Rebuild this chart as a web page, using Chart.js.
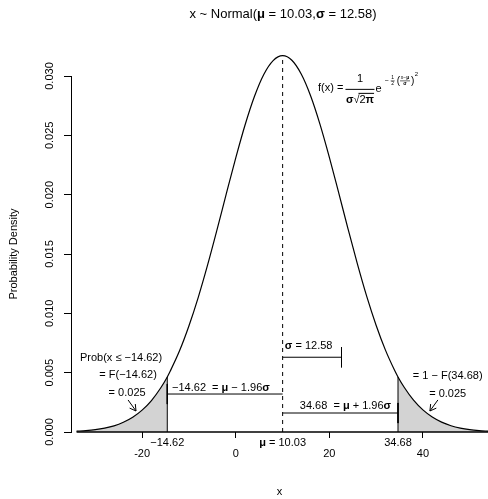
<!DOCTYPE html>
<html><head><meta charset="utf-8">
<script src="https://cdn.jsdelivr.net/npm/chart.js@4.4.1/dist/chart.umd.min.js"></script>
<style>html,body{margin:0;padding:0;background:#fff;}</style>
</head><body>
<canvas id="c" width="488" height="499"></canvas>
<script>
// ---- values ----
const MU = 10.03;
const SIGMA = 12.58;
const LOWER = -14.62;
const UPPER = 34.68;
const TAIL_PROB = 0.025;
const curveX = [-34, -32, -30, -28, -26, -24, -22, -20, -18, -16, -14.62, -14, -12, -10, -8, -6, -4, -2, 0, 2, 4, 6, 8, 10.03, 12, 14, 16, 18, 20, 22, 24, 26, 28, 30, 32, 34, 34.68, 36, 38, 40, 42, 44, 46, 48, 50, 52, 54];
const curveY = [0.00007, 0.00012, 0.00020, 0.00033, 0.00052, 0.00082, 0.00124, 0.00184, 0.00265, 0.00373, 0.00464, 0.00512, 0.00684, 0.00893, 0.01135, 0.01408, 0.01703, 0.02008, 0.02308, 0.02587, 0.02827, 0.03013, 0.03130, 0.03171, 0.03133, 0.03017, 0.02834, 0.02595, 0.02317, 0.02017, 0.01712, 0.01417, 0.01143, 0.00900, 0.00690, 0.00516, 0.00464, 0.00377, 0.00268, 0.00186, 0.00126, 0.00083, 0.00053, 0.00033, 0.00020, 0.00012, 0.00007];
const xTickValues = [-20, 0, 20, 40];
const yTickValues = [0, 0.005, 0.010, 0.015, 0.020, 0.025, 0.030];
const xMarkValues = [LOWER, MU, UPPER];
const xMarkLabels = ['−14.62', 'μ = 10.03', '34.68'];
const bracketLevels = [0.0063, 0.0032, 0.0016]; // sigma, lower, upper bracket heights
const tickHalf = 0.00085;

// ---- build datasets ----
const FAMILY = '"Liberation Sans", Arial, Helvetica, sans-serif';
const pts = curveX.map((x, i) => ({x, y: curveY[i]}));
const peakY = curveY[curveX.indexOf(MU)];
const lowY = curveY[curveX.indexOf(LOWER)];
const upY = curveY[curveX.indexOf(UPPER)];
const leftTail = pts.filter(p => p.x <= LOWER);
const rightTail = pts.filter(p => p.x >= UPPER);

function seg(data, extra) {
  return Object.assign({type: 'line', data, borderColor: '#000', borderWidth: 1, pointRadius: 0, tension: 0, fill: false, clip: false}, extra || {});
}

const datasets = [
  seg(pts, {borderWidth: 1.2, cubicInterpolationMode: 'monotone'}),
  seg([{x: curveX[0], y: 0}, {x: curveX[curveX.length - 1], y: 0}], {borderWidth: 1.6}),
  seg([{x: MU, y: 0}, {x: MU, y: peakY}], {borderDash: [4, 4]}),
  seg([{x: LOWER, y: 0}, {x: LOWER, y: lowY}]),
  seg([{x: UPPER, y: 0}, {x: UPPER, y: upY}]),
  seg([{x: MU, y: bracketLevels[0]}, {x: MU + SIGMA, y: bracketLevels[0]}]),
  seg([{x: MU + SIGMA, y: bracketLevels[0] + tickHalf}, {x: MU + SIGMA, y: bracketLevels[0] - tickHalf}]),
  seg([{x: LOWER, y: bracketLevels[1]}, {x: MU, y: bracketLevels[1]}]),
  seg([{x: LOWER, y: bracketLevels[1] + tickHalf}, {x: LOWER, y: bracketLevels[1] - tickHalf}]),
  seg([{x: MU, y: bracketLevels[2]}, {x: UPPER, y: bracketLevels[2]}]),
  seg([{x: UPPER, y: bracketLevels[2] + tickHalf}, {x: UPPER, y: bracketLevels[2] - tickHalf}]),
  seg(leftTail, {borderWidth: 0, borderColor: 'rgba(0,0,0,0)', backgroundColor: '#d3d3d3', fill: 'origin', cubicInterpolationMode: 'monotone'}),
  seg(rightTail, {borderWidth: 0, borderColor: 'rgba(0,0,0,0)', backgroundColor: '#d3d3d3', fill: 'origin', cubicInterpolationMode: 'monotone'})
];

// ---- annotation text (data coordinates) ----
const notes = [
  {t: 'σ = 12.58', x: 10.5, y: 0.00725, a: 'left'},
  {t: '−14.62  = μ − 1.96σ', x: -13.6, y: 0.00371, a: 'left'},
  {t: '34.68  = μ + 1.96σ', x: 13.7, y: 0.00219, a: 'left'},
  {t: 'Prob(x ≤ −14.62)', x: -24.5, y: 0.00624, a: 'center'},
  {t: '= F(−14.62)', x: -23.0, y: 0.00481, a: 'center'},
  {t: '= ' + TAIL_PROB, x: -23.2, y: 0.00329, a: 'center'},
  {t: '= 1 − F(34.68)', x: 45.3, y: 0.00473, a: 'center'},
  {t: '= ' + TAIL_PROB, x: 45.3, y: 0.00320, a: 'center'}
];
const arrows = [
  {x0: -23.0, y0: 0.00270, x1: -21.3, y1: 0.00177},
  {x0: 43.2, y0: 0.00270, x1: 41.5, y1: 0.00177}
];

function runs(text) {
  const out = [];
  for (const ch of text) {
    const g = 'μσπ'.includes(ch);
    if (out.length && out[out.length - 1].g === g) out[out.length - 1].t += ch;
    else out.push({t: ch, g});
  }
  return out;
}
function drawRich(ctx, text, x, y, size, align) {
  const rs = runs(text);
  let w = 0;
  rs.forEach(r => { ctx.font = (r.g ? 'bold ' : '') + size + 'px ' + FAMILY; r.w = ctx.measureText(r.t).width; w += r.w; });
  let sx = align === 'center' ? x - w / 2 : align === 'right' ? x - w : x;
  ctx.textBaseline = 'middle'; ctx.textAlign = 'left'; ctx.fillStyle = '#000';
  rs.forEach(r => { ctx.font = (r.g ? 'bold ' : '') + size + 'px ' + FAMILY; ctx.fillText(r.t, sx, y); sx += r.w; });
  return w;
}
function drawArrow(ctx, x0, y0, x1, y1, head) {
  const ang = Math.atan2(y1 - y0, x1 - x0);
  ctx.beginPath();
  ctx.moveTo(x0, y0); ctx.lineTo(x1, y1);
  ctx.moveTo(x1 - head * Math.cos(ang - Math.PI / 6), y1 - head * Math.sin(ang - Math.PI / 6));
  ctx.lineTo(x1, y1);
  ctx.lineTo(x1 - head * Math.cos(ang + Math.PI / 6), y1 - head * Math.sin(ang + Math.PI / 6));
  ctx.stroke();
}

const annot = {
  id: 'annot',
  afterDraw(chart) {
    const ctx = chart.ctx, xs = chart.scales.x, ys = chart.scales.y;
    ctx.save();
    // title
    drawRich(ctx, 'x ~ Normal(μ = 10.03,σ = 12.58)', 283, 14, 13, 'center');
    // notes
    notes.forEach(n => drawRich(ctx, n.t, xs.getPixelForValue(n.x), ys.getPixelForValue(n.y), 11, n.a));
    ctx.strokeStyle = '#000'; ctx.lineWidth = 1;
    arrows.forEach(a => drawArrow(ctx, xs.getPixelForValue(a.x0), ys.getPixelForValue(a.y0), xs.getPixelForValue(a.x1), ys.getPixelForValue(a.y1), 7));
    // special x labels
    xMarkValues.forEach((v, i) => drawRich(ctx, xMarkLabels[i], xs.getPixelForValue(v), chart.chartArea.bottom + 11, 11, 'center'));
    // density formula
    const fx = xs.getPixelForValue(17.6), fy = ys.getPixelForValue(0.0290);
    let w = drawRich(ctx, 'f(x) = ', fx, fy, 11, 'left');
    const bx0 = fx + w - 1, bx1 = bx0 + 29, bc = (bx0 + bx1) / 2;
    ctx.beginPath(); ctx.moveTo(bx0, fy + 1.5); ctx.lineTo(bx1, fy + 1.5); ctx.stroke();
    drawRich(ctx, '1', bc, fy - 9, 11, 'center');
    const dw = drawRich(ctx, 'σ√2π', bc, fy + 12, 11, 'center');
    ctx.font = 'bold 11px ' + FAMILY;
    const sw = ctx.measureText('σ').width;
    ctx.font = '11px ' + FAMILY;
    const rw = ctx.measureText('√').width;
    const ox = bc - dw / 2 + sw + rw - 1;
    ctx.beginPath(); ctx.moveTo(ox, fy + 5.5); ctx.lineTo(bc + dw / 2, fy + 5.5); ctx.stroke();
    let ex = bx1 + 1;
    ex += drawRich(ctx, 'e', ex, fy + 1, 11, 'left') + 3;
    ex += drawRich(ctx, '−', ex, fy - 7, 7, 'left') + 2;
    ctx.lineWidth = 0.6;
    drawRich(ctx, '1', ex + 2, fy - 10, 5, 'center');
    ctx.beginPath(); ctx.moveTo(ex, fy - 7); ctx.lineTo(ex + 4, fy - 7); ctx.stroke();
    drawRich(ctx, '2', ex + 2, fy - 4, 5, 'center');
    ex += 6;
    ex += drawRich(ctx, '(', ex, fy - 7, 10, 'left');
    drawRich(ctx, 'x−μ', ex + 5, fy - 10, 5, 'center');
    ctx.beginPath(); ctx.moveTo(ex, fy - 7); ctx.lineTo(ex + 10, fy - 7); ctx.stroke();
    drawRich(ctx, 'σ', ex + 5, fy - 4, 5, 'center');
    ex += 11;
    ex += drawRich(ctx, ')', ex, fy - 7, 10, 'left');
    drawRich(ctx, '2', ex + 0.5, fy - 14, 6, 'left');
    ctx.restore();
  }
};

new Chart(document.getElementById('c'), {
  type: 'line',
  data: {datasets},
  options: {
    responsive: false,
    devicePixelRatio: 1,
    animation: false,
    events: [],
    layout: {padding: {top: 76, left: 0, right: 0, bottom: 0}},
    plugins: {legend: {display: false}, tooltip: {enabled: false}, title: {display: false}},
    scales: {
      x: {
        type: 'linear', min: -35.19, max: 53.91,
        afterBuildTicks: s => { s.ticks = xTickValues.map(v => ({value: v})); },
        afterFit: s => { s.height = 67; },
        border: {display: false},
        grid: {drawOnChartArea: false, drawTicks: true, tickLength: 6, color: '#000'},
        ticks: {padding: 9, maxRotation: 0, autoSkip: false, color: '#000', font: {family: FAMILY, size: 11}, callback: v => String(v)},
        title: {display: true, text: 'x', color: '#000', font: {family: FAMILY, size: 11}, padding: {top: 0, bottom: 0}}
      },
      y: {
        type: 'linear', min: 0, max: 0.03,
        afterBuildTicks: s => { s.ticks = yTickValues.map(v => ({value: v})); },
        afterFit: s => { s.width = 71; },
        border: {display: true, color: '#000', width: 1},
        grid: {drawOnChartArea: false, drawTicks: true, tickLength: 7, color: '#000'},
        ticks: {minRotation: 90, maxRotation: 90, crossAlign: 'center', padding: 0, autoSkip: false, color: '#000', font: {family: FAMILY, size: 11}, callback: v => v.toFixed(3)},
        title: {display: true, text: 'Probability Density', color: '#000', font: {family: FAMILY, size: 11}, padding: {top: 7, bottom: 0}}
      }
    }
  },
  plugins: [annot]
});
</script>
</body></html>
